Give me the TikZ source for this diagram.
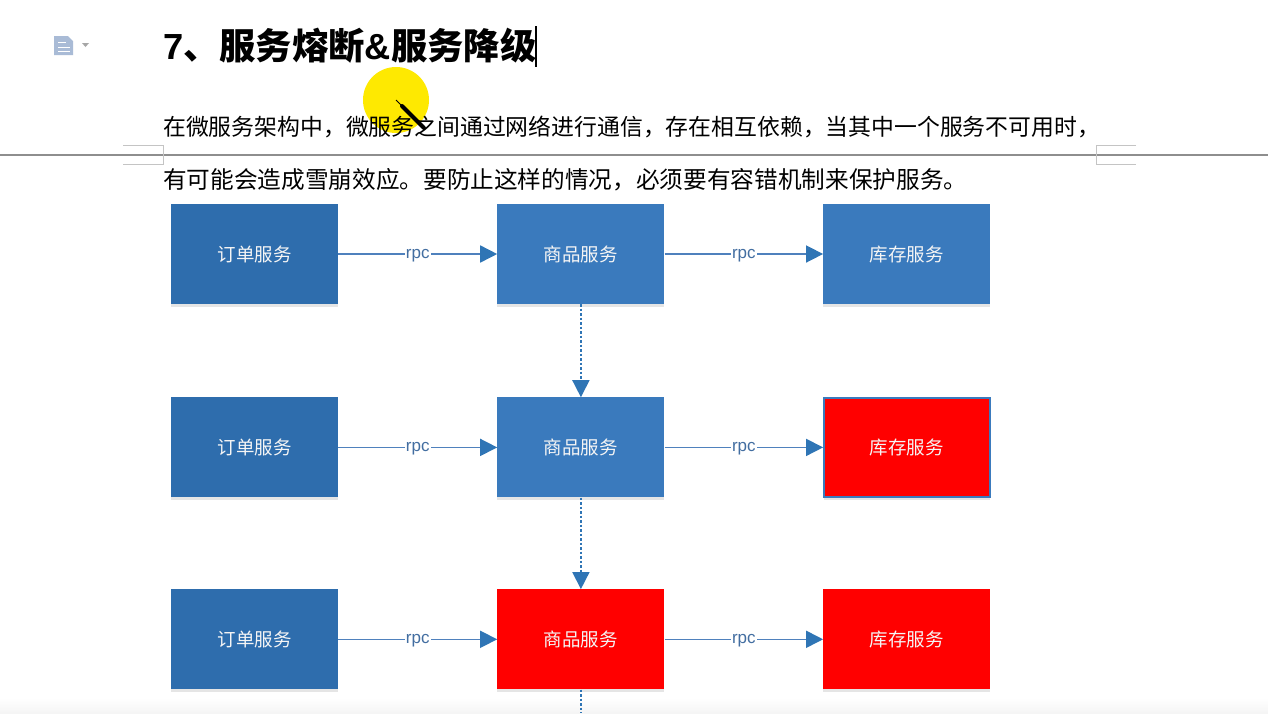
\documentclass[tikz,border=0pt]{standalone}
\usepackage{fontspec}
\setmainfont{Liberation Sans}
\newfontfamily\cjk{Noto Sans CJK SC}
\usepackage{xcolor}
\usetikzlibrary{arrows.meta,positioning,shadows}
\definecolor{darkblue}{HTML}{2E6DAD}
\definecolor{midblue}{HTML}{3A7ABD}
\definecolor{linkblue}{HTML}{4F81BD}
\definecolor{tipblue}{HTML}{2F75B5}
\definecolor{rulegray}{HTML}{8E8E8E}
\definecolor{markgray}{HTML}{C4C4C4}
\definecolor{pageicon}{HTML}{A9BBD6}
\tikzset{
  svc/.style={minimum width=167pt,minimum height=100pt,inner sep=0pt,text=white!92!gray,
    font=\cjk\fontsize{18.5}{20}\selectfont,
    drop shadow={shadow xshift=0pt,shadow yshift=-3pt,opacity=0.1,fill=black}},
  svcdark/.style={svc,fill=darkblue},
  svcmid/.style={svc,fill=midblue},
  svcred/.style={svc,fill=red},
  rpclink/.style={draw=linkblue,line width=1.6pt,-{Triangle[length=17pt,width=17pt,color=tipblue]}},
  falllink/.style={draw=tipblue,line width=1.6pt,dash pattern=on 2.5pt off 2pt,
    -{Triangle[length=17pt,width=17pt,color=tipblue]}},
  rpctag/.style={fill=white,inner sep=1pt,text=linkblue!85!black,yshift=-1.5pt,
    font=\fontsize{17}{17}\selectfont},
  bodyline/.style={anchor=west,inner sep=0pt}
}
\begin{document}
\begin{tikzpicture}[x=1pt,y=-1pt]
  \useasboundingbox[fill=white] (0,0) rectangle (1268,713);
  \fill[top color=white,bottom color=gray!8] (0,698) rectangle (1268,713);
  % page header
  \fill[pageicon] (54,36) -- (68,36) -- (73,41) -- (73,55) -- (54,55) -- cycle;
  \draw[white,line width=1pt] (58,42) -- (66,42) (58,47) -- (70,47) (58,51) -- (70,51);
  \fill[gray!70] (82,43) -- (89,43) -- (85.5,47) -- cycle;
  % page break
  \draw[rulegray,line width=1.6pt] (0,155) -- (1268,155);
  \draw[markgray,line width=1pt] (123,145.5) -- (163,145.5) -- (163,164.5) -- (123,164.5);
  \draw[markgray,line width=1pt] (1136,145.5) -- (1096,145.5) -- (1096,164.5) -- (1136,164.5);
  % pen highlight
  \fill[yellow!92!orange] (396,100) circle (33);
  % heading and text
  \node[anchor=west,inner sep=0pt,font=\bfseries\fontsize{36.3}{38}\selectfont] (title) at (163,46)
    {7{\cjk 、服务熔断}\&{\cjk 服务降级}};
  \draw[black,line width=1.5pt] (536,26) -- (536,67);
  \node[bodyline,font=\cjk\fontsize{22.85}{24}\selectfont] (line1) at (163,127) {在微服务架构中，微服务之间通过网络进行通信，存在相互依赖，当其中一个服务不可用时，};
  \node[bodyline,font=\cjk\fontsize{23.65}{25}\selectfont] (line2) at (163,180) {有可能会造成雪崩效应。要防止这样的情况，必须要有容错机制来保护服务。};
  \draw[black,line width=4pt,line cap=round] (402,106) -- (424,128);
  \draw[black,line width=0.8pt] (396,100) -- (402,106);
  % first row
  \node[svcdark] (order1) at (254.5,254) {订单服务};
  \node[svcmid,right=159pt of order1] (goods1) {商品服务};
  \node[svcmid,right=158.5pt of goods1] (stock1) {库存服务};
  % second row
  \node[svcdark,below=93pt of order1] (order2) {订单服务};
  \node[svcmid,right=159pt of order2] (goods2) {商品服务};
  \node[svcred,draw=midblue,line width=1.5pt,minimum width=166pt,minimum height=99pt,right=158.5pt of goods2] (stock2) {库存服务};
  % third row
  \node[svcdark,below=91.5pt of order2] (order3) {订单服务};
  \node[svcred,right=159pt of order3] (goods3) {商品服务};
  \node[svcred,right=158.5pt of goods3] (stock3) {库存服务};
  \coordinate (bottom) at (goods3.south |- 0,713);
  \foreach \row in {1,2,3}{
    \draw[rpclink] (order\row) -- node[rpctag]{rpc} (goods\row);
    \draw[rpclink] (goods\row) -- node[rpctag]{rpc} (stock\row);
  }
  \draw[falllink] (goods1) -- (goods2);
  \draw[falllink] (goods2) -- (goods3);
  \draw[draw=tipblue,line width=1.6pt,dash pattern=on 2.5pt off 2pt] (goods3) -- (bottom);
\end{tikzpicture}
\end{document}
